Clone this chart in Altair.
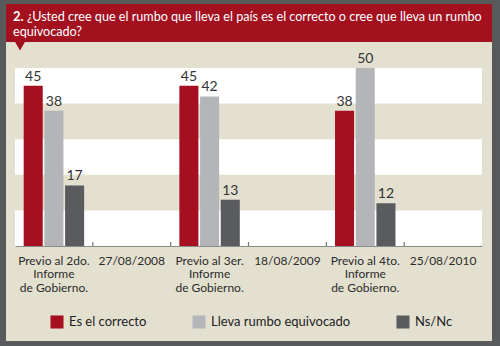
import altair as alt
import pandas as pd

# ---- data ----
categories = ["Previo al 2do.|Informe|de Gobierno.", "27/08/2008",
              "Previo al 3er.|Informe|de Gobierno.", "18/08/2009",
              "Previo al 4to.|Informe|de Gobierno.", "25/08/2010"]
bar_categories = ["Previo al 2do.|Informe|de Gobierno.",
                  "Previo al 3er.|Informe|de Gobierno.",
                  "Previo al 4to.|Informe|de Gobierno."]
series = ["Es el correcto", "Lleva rumbo equivocado", "Ns/Nc"]
es_correcto = [45, 45, 38]
equivocado = [38, 42, 50]
ns_nc = [17, 13, 12]
stripe_lo = [0, 20, 40]
stripe_hi = [10, 30, 50]
title_num = "2."
title_line1 = "¿Usted cree que el rumbo que lleva el país es el correcto o cree que lleva un rumbo"
title_line2 = "equivocado?"

colors = ["#a50f1f", "#b3b5b9", "#5a5b5e"]
FONT = "Lato"

rows = []
for i, c in enumerate(bar_categories):
    for s, vals in zip(series, [es_correcto, equivocado, ns_nc]):
        rows.append({"cat": c, "serie": s, "valor": vals[i]})
df = pd.DataFrame(rows)
stripes = pd.DataFrame({"lo": stripe_lo, "hi": stripe_hi})
ticks = pd.DataFrame({"cat": categories[1:]})

W, H = 467, 178

xscale = alt.Scale(domain=categories, paddingInner=0, paddingOuter=0)
offscale = alt.Scale(domain=series, paddingInner=0.08, paddingOuter=0.42)
yscale = alt.Scale(domain=[0, 50])

one = pd.DataFrame({"a": [0]})
panel = alt.Chart(one).mark_rect(color="#e4e0d0", clip=False).encode(
    x=alt.value(-9), x2=alt.value(477), y=alt.value(-64), y2=alt.value(273))
header = alt.Chart(one).mark_rect(color="#a3111f", clip=False).encode(
    x=alt.value(-9), x2=alt.value(477), y=alt.value(-64), y2=alt.value(-26))
tri = alt.Chart(one).mark_point(
    shape="triangle-down", filled=True, color="#a3111f", opacity=1, size=110, clip=False
).encode(x=alt.value(5), y=alt.value(-22))
t_num = alt.Chart(pd.DataFrame({"t": [title_num]})).mark_text(
    font=FONT, fontSize=13, fontWeight="bold", color="white", align="left", baseline="middle"
).encode(x=alt.value(-2), y=alt.value(-51), text="t")
t1 = alt.Chart(pd.DataFrame({"t": [title_line1]})).mark_text(
    font=FONT, fontSize=12.6, color="white", align="left", baseline="middle"
).encode(x=alt.value(12), y=alt.value(-51), text="t")
t2 = alt.Chart(pd.DataFrame({"t": [title_line2]})).mark_text(
    font=FONT, fontSize=12.6, color="white", align="left", baseline="middle"
).encode(x=alt.value(-2), y=alt.value(-36), text="t")

stripe = alt.Chart(stripes).mark_rect(color="#ffffff").encode(
    x=alt.value(0), x2=alt.value(W),
    y=alt.Y("lo:Q", scale=yscale, axis=None), y2="hi:Q")


def line_axis(i, pad, domain):
    expr = f"length(split(datum.label, '|')) > {i} ? split(datum.label, '|')[{i}] : ''"
    return alt.Axis(title=None, orient="bottom", labelExpr=expr, labelAngle=0,
                    labelFont=FONT, labelFontSize=12, labelColor="#2b2b2b", labelAlign="center",
                    labelPadding=pad, ticks=False, labelOverlap=False,
                    labelBound=False, labelFlush=False, zindex=2, grid=False,
                    domain=domain, domainColor="#8a8a8a", domainWidth=1.2, labelBaseline="top")


bars = alt.Chart(df).mark_bar().encode(
    x=alt.X("cat:N", scale=xscale, sort=categories, axis=line_axis(0, 9, True)),
    xOffset=alt.XOffset("serie:N", scale=offscale),
    y=alt.Y("valor:Q", scale=yscale, axis=None),
    color=alt.Color("serie:N", scale=alt.Scale(domain=series, range=colors),
                    legend=alt.Legend(title=None, orient="none", direction="horizontal",
                                      legendX=35, legendY=247, symbolType="square",
                                      symbolSize=170, symbolStrokeWidth=0, zindex=2,
                                      labelFont=FONT, labelFontSize=13, labelColor="#222",
                                      columnPadding=45, labelOffset=5)),
)
labels = alt.Chart(df).mark_text(font=FONT, fontSize=14, color="#333", baseline="bottom", dy=-2).encode(
    x=alt.X("cat:N", scale=xscale, sort=categories, axis=line_axis(1, 22.7, False)),
    xOffset=alt.XOffset("serie:N", scale=offscale),
    y=alt.Y("valor:Q", scale=yscale, axis=None),
    text="valor:Q")
tickmarks = alt.Chart(ticks).mark_rule(color="#777", strokeWidth=1.2).encode(
    x=alt.X("cat:N", scale=xscale, sort=categories, bandPosition=0, axis=line_axis(2, 36.4, False)),
    y=alt.value(H - 4), y2=alt.value(H))

chart = alt.layer(panel, header, tri, t_num, t1, t2, stripe, bars, labels, tickmarks).resolve_axis(
    x="independent"
).properties(
    width=W, height=H,
    autosize=alt.AutoSizeParams(type="none"),
    padding={"left": 15, "top": 68, "right": 18, "bottom": 100},
    background="#58595b",
).configure_view(stroke=None)

chart.save("out.html", embed_options={"renderer": "svg", "actions": False})
